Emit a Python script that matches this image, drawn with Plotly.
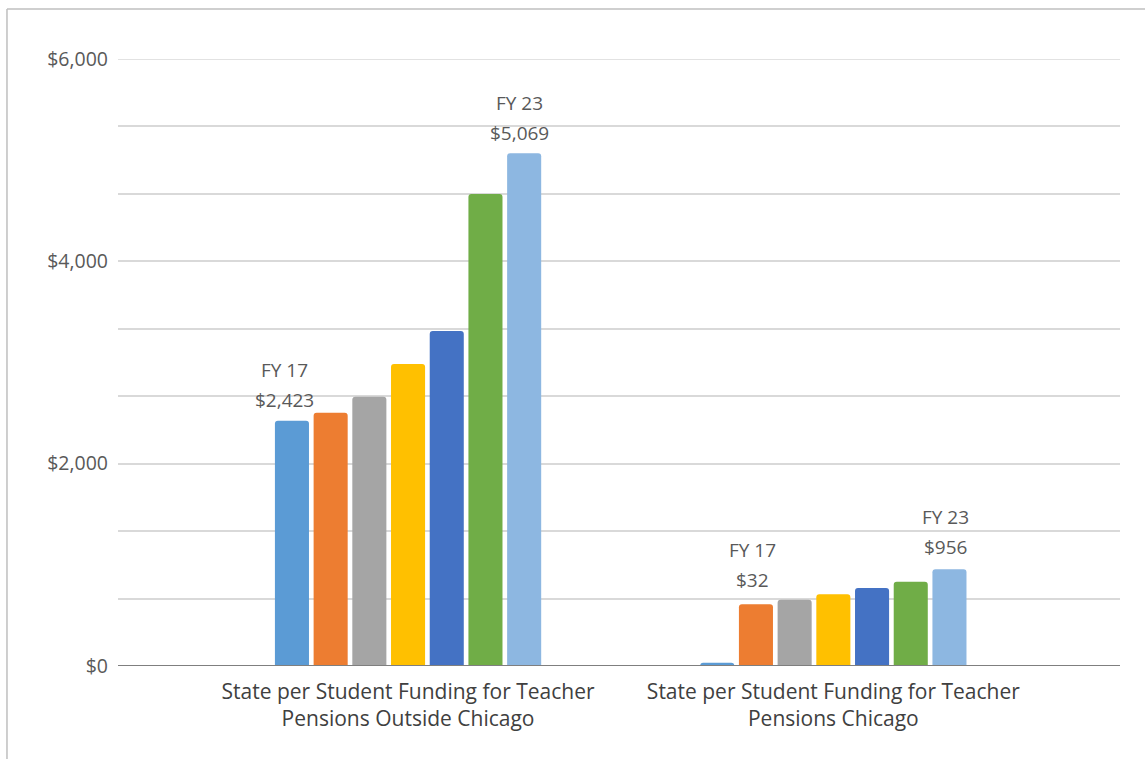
import plotly.graph_objects as go

# Categories and fiscal years
categories = [
    "State per Student Funding for Teacher<br>Pensions Outside Chicago",
    "State per Student Funding for Teacher<br>Pensions Chicago",
]
years = ["FY 17", "FY 18", "FY 19", "FY 20", "FY 21", "FY 22", "FY 23"]

# Per-student funding, one list per category (FY17..FY23)
outside_chicago = [2423, 2504, 2662, 2985, 3311, 4666, 5069]
chicago = [32, 610, 655, 709, 771, 833, 956]

colors = ["#5B9BD5", "#ED7D31", "#A5A5A5", "#FFC000", "#4472C4", "#70AD47", "#8DB7E1"]

y_ticks = [0, 2000, 4000, 6000]
y_tick_text = ["$0", "$2,000", "$4,000", "$6,000"]

BARGAP = 0.363
GROUPGAP = 0.12
FONT = "Open Sans"

fig = go.Figure()
x_pos = [0, 1]
for i, yr in enumerate(years):
    fig.add_trace(go.Bar(
        x=x_pos,
        y=[outside_chicago[i], chicago[i]],
        name=yr,
        marker=dict(color=colors[i], line=dict(width=0), cornerradius=3),
        hoverinfo="y",
    ))

# Labels on first and last fiscal year of each group
pitch = (1 - BARGAP) / len(years)


def bar_center(cat, idx):
    return cat + (idx - (len(years) - 1) / 2) * pitch


label_specs = [
    # (category index, year index, value list, xshift, lower-line yshift)
    (0, 0, outside_chicago, -7, 21),
    (0, 6, outside_chicago, -5, 20),
    (1, 0, chicago, 35, 83),
    (1, 6, chicago, -4, 22),
]
annotations = []
for cat, idx, vals, xs, ys in label_specs:
    v = vals[idx]
    for text, extra in ((f"${v:,}", 0), (years[idx], 30)):
        annotations.append(dict(
            x=bar_center(cat, idx), y=v, xref="x", yref="y",
            text=text, showarrow=False, xshift=xs, yshift=ys + extra,
            yanchor="middle", xanchor="center",
            font=dict(family=FONT, size=19, color="#595959"),
        ))

GRID = "#D9D9D9"

# Chart frame (left and top edges) and the top gridline at the axis maximum
shapes = [
    dict(type="line", xref="paper", yref="paper", x0=-0.1108, x1=-0.1108,
         y0=1.0824, y1=-0.2, line=dict(color="#BFBFBF", width=1.5)),
    dict(type="line", xref="paper", yref="paper", x0=-0.1108, x1=1.1,
         y0=1.0824, y1=1.0824, line=dict(color="#BFBFBF", width=1.5)),
    dict(type="line", xref="paper", yref="y", x0=0, x1=1,
         y0=y_ticks[-1], y1=y_ticks[-1], layer="below",
         line=dict(color=GRID, width=1.5)),
]

fig.update_layout(
    width=1145, height=759,
    margin=dict(l=118, r=25, t=59, b=93),
    paper_bgcolor="white", plot_bgcolor="white",
    barmode="group", bargap=BARGAP, bargroupgap=GROUPGAP,
    showlegend=False,
    annotations=annotations,
    shapes=shapes,
    xaxis=dict(
        range=[-0.682, 1.674],
        tickvals=x_pos, ticktext=categories,
        showgrid=False, zeroline=False,
        showline=False, ticks="",
        ticklabelstandoff=11,
        tickfont=dict(family=FONT, size=21, color="#404040"),
    ),
    yaxis=dict(
        range=[0, 6000],
        tickvals=y_ticks, ticktext=y_tick_text,
        showgrid=True, gridcolor=GRID, gridwidth=1.5,
        zeroline=False, showline=False, ticks="",
        ticklabelstandoff=9,
        tickfont=dict(family=FONT, size=19.5, color="#595959"),
        minor=dict(dtick=2000 / 3, tick0=0, showgrid=True,
                   gridcolor=GRID, gridwidth=1.5, ticks=""),
    ),
)

# Baseline at $0
fig.add_hline(y=0, line=dict(color="#7F7F7F", width=2), layer="above")

fig.write_html("out.html")
